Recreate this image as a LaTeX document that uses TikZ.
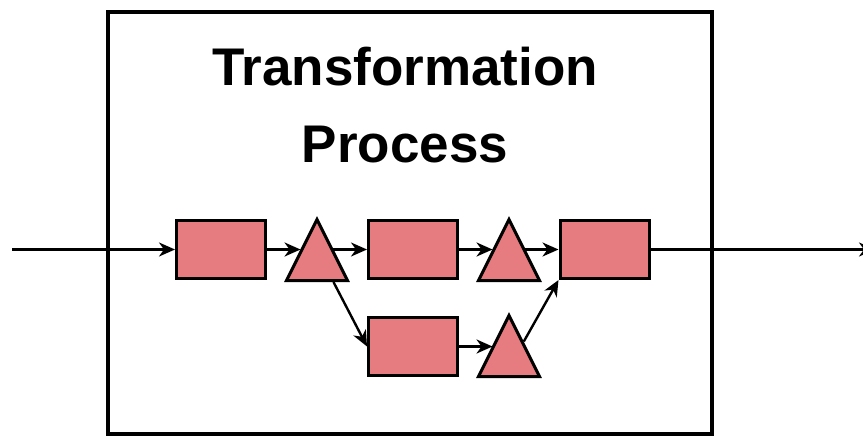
\documentclass[tikz,border=0pt]{standalone}
\usepackage{fontspec}
\setmainfont{Liberation Sans}
\usetikzlibrary{shapes.geometric,arrows.meta,calc}
\definecolor{boxfill}{HTML}{E67C80}

\begin{document}
\begin{tikzpicture}[x=1pt,y=-1pt,
  stagebox/.style={rectangle,draw=black,fill=boxfill,line width=3pt,
    minimum width=89pt,minimum height=58pt,inner sep=0pt},
  buffer/.style={isosceles triangle,shape border rotate=90,
    isosceles triangle stretches,draw=black,fill=boxfill,line width=3pt,
    minimum width=61pt,minimum height=61pt,inner sep=0pt},
  flow/.style={line width=2.4pt,-{Stealth[length=16pt,width=14pt,inset=5pt]}},
  titletext/.style={font=\bfseries\fontsize{53}{60}\selectfont,anchor=base,inner sep=0pt}]

\useasboundingbox (0,0) rectangle (863,436);

% enclosing process boundary
\node[draw=black,line width=4pt,minimum width=604pt,minimum height=422pt,
  inner sep=0pt] (frame) at (410,223) {};

% heading
\node[titletext] (title1) at (405,85) {Transformation};
\node[titletext] (title2) at (405,162) {Process};

% operations
\node[stagebox] (r1) at (221,249.5) {};
\node[stagebox] (r2) at (413,249.5) {};
\node[stagebox] (r3) at (604.5,249.5) {};
\node[stagebox] (r4) at (413,346.5) {};

% buffers
\node[buffer,anchor=lower side] (t1) at (317,282) {};
\node[buffer,anchor=lower side] (t2) at (509,282) {};
\node[buffer,anchor=lower side] (t3) at (509,378) {};

% points on the slanted sides of the buffers
\coordinate (t1l) at ($(t1.apex)!0.5!(t1.left corner)$);
\coordinate (t1r) at ($(t1.apex)!0.5!(t1.right corner)$);
\coordinate (t2l) at ($(t2.apex)!0.5!(t2.left corner)$);
\coordinate (t2r) at ($(t2.apex)!0.5!(t2.right corner)$);
\coordinate (t3l) at ($(t3.apex)!0.5!(t3.left corner)$);
\coordinate (t3r) at ($(t3.apex)!0.45!(t3.right corner)$);
\coordinate (t1b) at ($(t1.left corner)!0.75!(t1.right corner)$);

% input and output
\coordinate (in) at (12,249.5);
\coordinate (out) at (875,249.5);

\draw[flow] (in) -- (r1.west);
\draw[flow] (r1.east) -- (t1l |- r1.east);
\draw[flow] (t1r |- r2.west) -- (r2.west);
\draw[flow] (r2.east) -- (t2l |- r2.east);
\draw[flow] (t2r |- r3.west) -- (r3.west);
\draw[flow] (t1b) -- (r4.west);
\draw[flow] (r4.east) -- (t3l |- r4.east);
\draw[flow] (t3r) -- (r3.south west);
\draw[flow] (r3.east) -- (out);
\end{tikzpicture}
\end{document}
